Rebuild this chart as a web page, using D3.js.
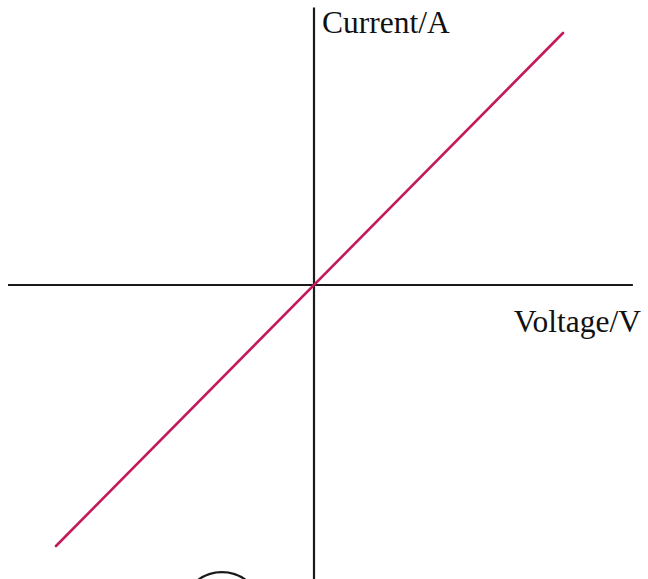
<!DOCTYPE html>
<html><head><meta charset="utf-8">
<script src="https://cdn.jsdelivr.net/npm/d3@7"></script>
<style>html,body{margin:0;padding:0;background:#fff;}svg{display:block;}</style>
</head><body>
<script>
// Data (units: arbitrary, origin at 0)
const voltage = [-8.6, 8.3];
const current = [-8.7, 8.4];
const xAxisExtent = [-10.2, 10.63];
const yAxisExtent = [-9.8, 9.25];
const axisLabels = ["Voltage/V", "Current/A"];
const circleMark = {v: -3.07, i: -10.9, r: 1.33};

const W = 648, H = 579;
const x = d3.scaleLinear().domain([-10, 10]).range([14, 614]);
const y = d3.scaleLinear().domain([-10, 10]).range([585, -15]);

const svg = d3.select("body").append("svg").attr("width", W).attr("height", H);

// axes
svg.append("line")
  .attr("x1", x(xAxisExtent[0])).attr("x2", x(xAxisExtent[1]))
  .attr("y1", y(0)).attr("y2", y(0))
  .attr("stroke", "#1a1a1a").attr("stroke-width", 2.2);
svg.append("line")
  .attr("x1", x(0)).attr("x2", x(0))
  .attr("y1", y(yAxisExtent[1])).attr("y2", y(yAxisExtent[0]))
  .attr("stroke", "#1a1a1a").attr("stroke-width", 2.2);

// I-V line
const pts = voltage.map((v, k) => [v, current[k]]);
svg.append("path")
  .datum(pts)
  .attr("d", d3.line().x(d => x(d[0])).y(d => y(d[1])))
  .attr("fill", "none").attr("stroke", "#c41a5c").attr("stroke-width", 2.6)
  .attr("stroke-linecap", "round");

// partial circle at bottom
svg.append("circle")
  .attr("cx", x(circleMark.v)).attr("cy", y(circleMark.i))
  .attr("r", x(circleMark.r) - x(0))
  .attr("fill", "none").attr("stroke", "#1a1a1a").attr("stroke-width", 2.2);

// labels
svg.append("text")
  .attr("x", x(0) + 8).attr("y", 33)
  .attr("font-family", "Liberation Serif, Times New Roman, serif")
  .attr("font-size", 31.5).attr("fill", "#111")
  .text(axisLabels[1]);
svg.append("text")
  .attr("x", 641).attr("y", 332).attr("text-anchor", "end")
  .attr("font-family", "Liberation Serif, Times New Roman, serif")
  .attr("font-size", 31.5).attr("fill", "#111")
  .text(axisLabels[0]);
</script>
</body></html>
